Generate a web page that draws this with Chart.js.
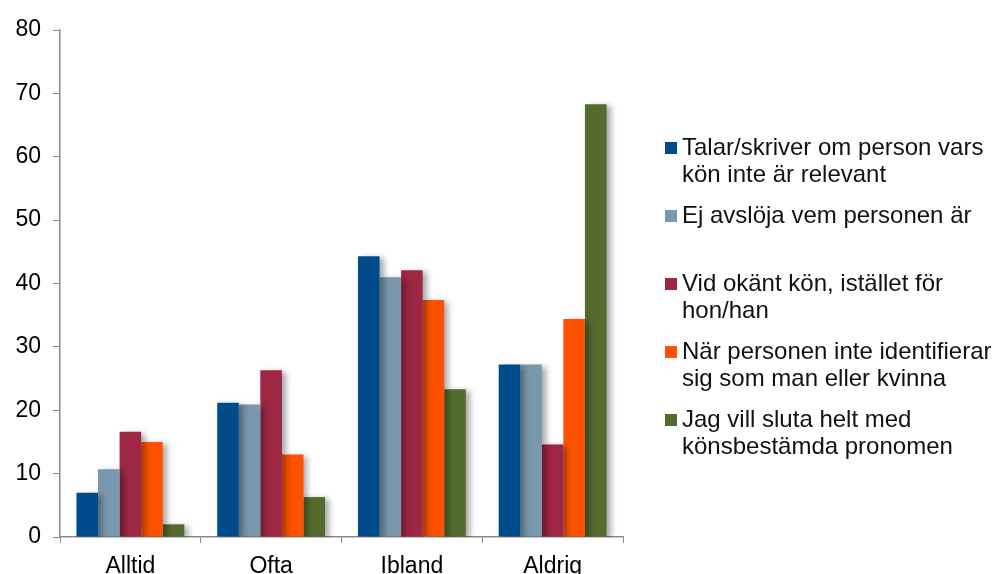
<!DOCTYPE html>
<html>
<head>
<meta charset="utf-8">
<script src="https://cdn.jsdelivr.net/npm/chart.js@4.4.0/dist/chart.umd.min.js"></script>
<style>
  html, body { margin: 0; padding: 0; background: #fff; overflow: hidden; }
  #wrap { position: relative; width: 993px; height: 574px; }
</style>
</head>
<body>
<div id="wrap"><canvas id="chart"></canvas></div>
<script>
const categories = ['Alltid', 'Ofta', 'Ibland', 'Aldrig'];

const talarSkriver = [7.0, 21.2, 44.3, 27.2];
const ejAvsloja = [10.7, 20.9, 41.0, 27.2];
const vidOkantKon = [16.6, 26.3, 42.1, 14.6];
const narInteIdentifierar = [15.0, 13.0, 37.4, 34.4];
const slutaHelt = [2.0, 6.3, 23.3, 68.3];

const seriesLabels = [
  ['Talar/skriver om person vars', 'kön inte är relevant'],
  ['Ej avslöja vem personen är', ''],
  ['Vid okänt kön, istället för', 'hon/han'],
  ['När personen inte identifierar', 'sig som man eller kvinna'],
  ['Jag vill sluta helt med', 'könsbestämda pronomen']
];

const yTicks = [0, 10, 20, 30, 40, 50, 60, 70, 80];

const colors = ['#004C8A', '#7A98AD', '#9E2744', '#FF5200', '#546B2E'];
const axisGray = '#8a8a8a';
const family = 'Arial, "Liberation Sans", sans-serif';
const font = { family: family, size: 23 };
const legendFont = 24;

const seriesData = [talarSkriver, ejAvsloja, vidOkantKon, narInteIdentifierar, slutaHelt];

// bars get a soft drop shadow like the original
const barShadow = {
  id: 'barShadow',
  beforeDatasetsDraw(chart) {
    const ctx = chart.ctx;
    ctx.save();
    ctx.shadowColor = 'rgba(0,0,0,0.35)';
    ctx.shadowBlur = 6;
    ctx.shadowOffsetX = 4;
    ctx.shadowOffsetY = 2;
  },
  afterDatasetsDraw(chart) {
    chart.ctx.restore();
  }
};

// legend on the right with wrapped lines
const sideLegend = {
  id: 'sideLegend',
  afterDraw(chart) {
    const ctx = chart.ctx;
    const lineH = 27;
    const gap = 14;
    let y = 148;
    ctx.save();
    ctx.font = legendFont + 'px ' + family;
    ctx.textBaseline = 'middle';
    ctx.textAlign = 'left';
    chart.data.datasets.forEach(function (ds, i) {
      ctx.fillStyle = ds.backgroundColor;
      ctx.fillRect(665, y - 6, 12, 12);
      ctx.fillStyle = '#111';
      ds.legendLines.forEach(function (line, k) {
        ctx.fillText(line, 682, y + k * lineH);
      });
      y += ds.legendLines.length * lineH + gap;
    });
    ctx.restore();
  }
};

const datasets = seriesData.map(function (vals, i) {
  return {
    label: seriesLabels[i].join(' '),
    legendLines: seriesLabels[i],
    data: vals,
    backgroundColor: colors[i],
    borderWidth: 0,
    categoryPercentage: 0.766,
    barPercentage: 1.0
  };
});

new Chart(document.getElementById('chart'), {
  type: 'bar',
  data: { labels: categories, datasets: datasets },
  options: {
    responsive: true,
    maintainAspectRatio: false,
    animation: false,
    layout: { padding: { top: 30, right: 370, left: 0, bottom: 0 } },
    plugins: {
      legend: { display: false },
      tooltip: { enabled: false }
    },
    scales: {
      x: {
        grid: { display: true, offset: true, drawOnChartArea: false, tickLength: 6, color: axisGray },
        border: { display: true, color: axisGray, width: 1.5 },
        ticks: { color: '#000', font: font, padding: 10 },
        afterFit(scale) { scale.height = 37; }
      },
      y: {
        min: 0,
        max: 80,
        afterBuildTicks(scale) { scale.ticks = yTicks.map(v => ({ value: v })); },
        grid: { display: true, drawOnChartArea: false, tickLength: 7, color: axisGray },
        border: { display: true, color: axisGray, width: 1.5 },
        ticks: { color: '#000', font: font, padding: 12 },
        afterFit(scale) { scale.width = 60; }
      }
    }
  },
  plugins: [barShadow, sideLegend]
});
</script>
</body>
</html>
